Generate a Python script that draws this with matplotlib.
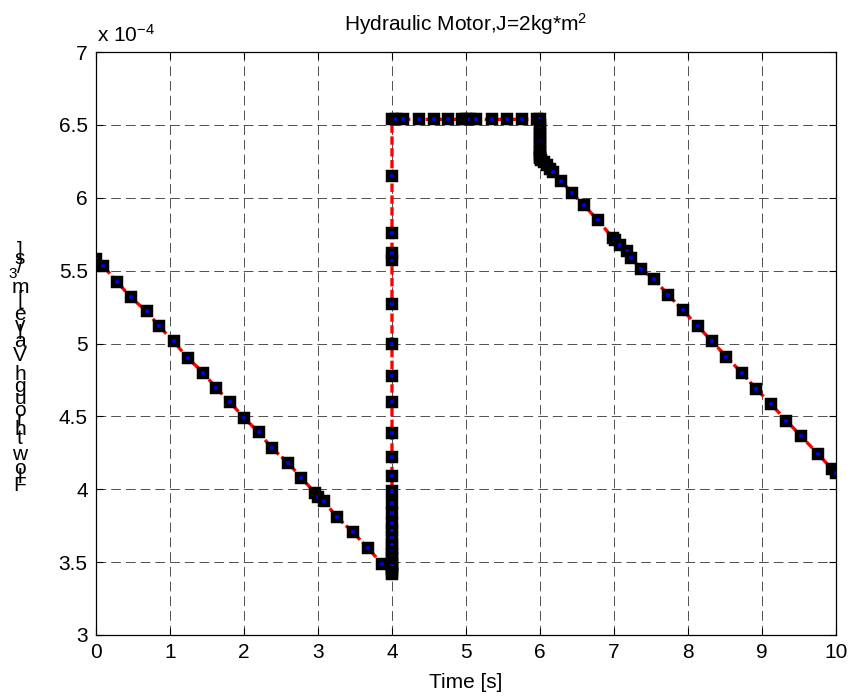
import matplotlib
matplotlib.use('Agg')
import matplotlib.pyplot as plt
import numpy as np

plt.rcParams.update({
    'font.family': 'Liberation Sans',
    'mathtext.fontset': 'custom',
    'mathtext.rm': 'Liberation Sans',
    'mathtext.it': 'Liberation Sans:italic',
    'lines.scale_dashes': False,
})

# Flow through valve, in units of 1e-4 m^3/s
# falling ramp 0..4 s
t_ramp1 = [0.0, 0.10, 0.29, 0.47, 0.685, 0.855, 1.05, 1.24, 1.45, 1.62, 1.81, 2.00,
           2.20, 2.38, 2.60, 2.77, 2.96, 3.00, 3.08, 3.255, 3.47, 3.67, 3.86]
q_ramp1 = [5.58, 5.53, 5.42, 5.317, 5.22, 5.117, 5.014, 4.90, 4.80, 4.696, 4.598, 4.49,
           4.39, 4.28, 4.18, 4.08, 3.977, 3.95, 3.917, 3.81, 3.705, 3.60, 3.49]

# jump at t = 4 s
q_jump = [3.42, 3.43, 3.45, 3.47, 3.49, 3.526, 3.559, 3.591, 3.625, 3.671, 3.717, 3.768,
          3.837, 3.906, 3.991, 4.094, 4.223, 4.388, 4.60, 4.777, 4.998, 5.269, 5.572,
          5.623, 5.761, 6.147, 6.538]
t_jump = [4.0] * len(q_jump)

# plateau 4..6 s
t_flat = [4.05, 4.15, 4.36, 4.57, 4.75, 4.95, 5.0, 5.05, 5.13, 5.35, 5.55, 5.75, 5.96, 6.0]
q_flat = [6.538] * len(t_flat)

# drop at t = 6 s
q_drop = [6.50, 6.47, 6.44, 6.41, 6.38, 6.35, 6.32, 6.30, 6.28, 6.27]
t_drop = [6.0] * len(q_drop)

# falling ramp 6..10 s
t_ramp2 = [6.02, 6.05, 6.09, 6.13, 6.18, 6.29, 6.43, 6.59, 6.78, 6.99, 7.02, 7.08, 7.17,
           7.23, 7.37, 7.54, 7.73, 7.93, 8.13, 8.32, 8.52, 8.73, 8.92, 9.12, 9.33, 9.53,
           9.75, 9.94, 10.0]
q_ramp2 = [6.26, 6.245, 6.225, 6.20, 6.175, 6.117, 6.032, 5.952, 5.846, 5.722, 5.71, 5.676,
           5.634, 5.584, 5.512, 5.44, 5.336, 5.228, 5.12, 5.017, 4.909, 4.796, 4.69, 4.585,
           4.47, 4.364, 4.245, 4.142, 4.11]

t = np.concatenate([t_ramp1, t_jump, t_flat, t_drop, t_ramp2])
q = np.concatenate([q_ramp1, q_jump, q_flat, q_drop, q_ramp2])

W, H = 851, 697
fig = plt.figure(figsize=(W / 100, H / 100), dpi=100)
ax = fig.add_axes([96 / W, 1 - 635 / H, (836 - 96) / W, (635 - 52) / H])

ax.plot(t, q, color='red', linestyle=(0, (6, 2.5)), linewidth=2.4,
        marker='s', markersize=6.0, markeredgewidth=3.2,
        markerfacecolor='blue', markeredgecolor='black')

ax.set_xlim(0, 10)
ax.set_ylim(3, 7)
ax.set_xticks(np.arange(0, 11, 1))
ax.set_yticks(np.arange(3, 7.01, 0.5))
ax.set_yticklabels([f'{v:g}' for v in np.arange(3, 7.01, 0.5)])
ax.tick_params(direction='in', length=5, width=0.8, labelsize=15, pad=6,
               top=True, right=True)
ax.grid(True, color='#333333', linestyle=(0, (7, 3.6)), linewidth=0.6)
for s in ax.spines.values():
    s.set_linewidth(0.9)

ax.set_xlabel('Time [s]', fontsize=15, labelpad=8)
ax.set_title('Hydraulic Motor,J=2kg*m$^{2}$', fontsize=15, pad=15)
fig.text(97 / W, 1 - 42 / H, 'x 10$^{-4}$', fontsize=15, ha='left', va='baseline')

# y label stacked upright, as in the original rendering
ylab = 'Flow through Valve [m3/s]'
adv = {'F': .611, 'l': .222, 'o': .556, 'w': .722, ' ': .278, 't': .278, 'h': .556,
       'r': .333, 'u': .556, 'g': .556, 'V': .667, 'a': .556, 'v': .5, 'e': .556,
       '[': .278, 'm': .833, '3': .556, '/': .278, 's': .5, ']': .278}
em = 21.5
pos = 0.0
sup_i = ylab.index('3')
for i, ch in enumerate(ylab):
    sup = i == sup_i
    w = adv[ch] * (0.7 if sup else 1.0)
    if ch != ' ':
        yc = 486 + 0.305 * em - (pos + w / 2) * em
        xc = 13 if sup else 20
        fig.text(xc / W, 1 - yc / H, ch, ha='center', va='center',
                 fontsize=11 if sup else 15)
    pos += w

fig.savefig('out.png', dpi=100, facecolor='white')
